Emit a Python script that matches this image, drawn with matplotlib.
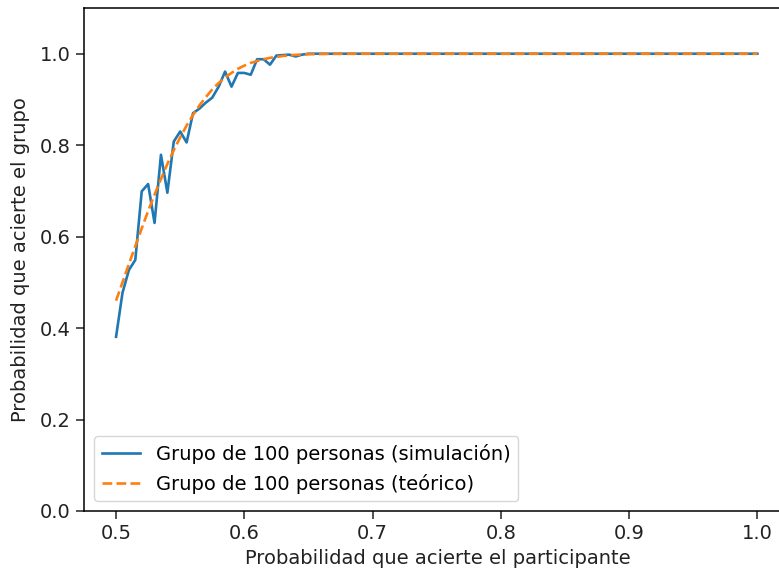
import numpy as np
import matplotlib
matplotlib.use("Agg")
import matplotlib.pyplot as plt

# x values: participant probability from 0.5 to 1.0 in steps of 0.005
p_values = np.round(np.linspace(0.5, 1.0, 101), 3)

sim_head = [0.381, 0.477, 0.527, 0.549, 0.699, 0.715, 0.630, 0.779, 0.696, 0.808,
            0.830, 0.806, 0.870, 0.880, 0.893, 0.904, 0.928, 0.961, 0.928, 0.958,
            0.958, 0.954, 0.988, 0.988, 0.976, 0.996, 0.997, 0.998, 0.994, 0.998]
sim_tail = [1.0] * (101 - len(sim_head))
sim_values = sim_head + sim_tail

theo_head = [0.460, 0.500, 0.540, 0.579, 0.618, 0.656, 0.692, 0.726, 0.759, 0.789,
             0.817, 0.843, 0.866, 0.887, 0.905, 0.922, 0.936, 0.948, 0.958, 0.967,
             0.974, 0.980, 0.984, 0.988, 0.991, 0.993, 0.995, 0.9965, 0.9975, 0.9983,
             0.9988, 0.9992, 0.9995, 0.9997, 0.9998, 0.9999]
theo_tail = [1.0] * (101 - len(theo_head))
theo_values = theo_head + theo_tail

x_ticks = [0.5, 0.6, 0.7, 0.8, 0.9, 1.0]
y_ticks = [0.0, 0.2, 0.4, 0.6, 0.8, 1.0]

label_sim = "Grupo de 100 personas (simulación)"
label_theo = "Grupo de 100 personas (teórico)"
xlabel = "Probabilidad que acierte el participante"
ylabel = "Probabilidad que acierte el grupo"

W, H = 779, 570
fig = plt.figure(figsize=(W / 100, H / 100), dpi=100)
left, right, top, bottom = 84, 792, 8, 511
ax = fig.add_axes([left / W, (H - bottom) / H, (right - left) / W, (bottom - top) / H])

fs = 14
ax.plot(p_values, sim_values, color="#1f77b4", lw=1.9, label=label_sim)
ax.plot(p_values, theo_values, color="#ff7f0e", lw=1.9, ls="--", label=label_theo)
ax.set_xlim(0.475, 1.027)
ax.set_ylim(0.0, 1.1)
ax.set_xticks(x_ticks)
ax.set_yticks(y_ticks)
ax.tick_params(labelsize=fs, length=6, width=1.1, colors="#222222")
ax.set_xlabel(xlabel, fontsize=fs, color="#222222")
ax.set_ylabel(ylabel, fontsize=fs, color="#222222", labelpad=7)
for s in ax.spines.values():
    s.set_linewidth(1.1)
ax.legend(loc="lower left", fontsize=fs)

fig.savefig("out.png", dpi=100)
